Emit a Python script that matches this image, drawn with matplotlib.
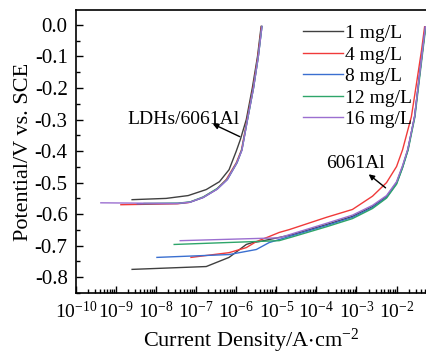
import numpy as np
import matplotlib
matplotlib.use("Agg")
import matplotlib.pyplot as plt
from matplotlib.ticker import LogLocator, MultipleLocator

plt.rcParams['font.family'] = ['Liberation Serif', 'DejaVu Serif']
plt.rcParams['mathtext.fontset'] = 'stix'
plt.rcParams['mathtext.default'] = 'regular'

labels = ['1 mg/L', '4 mg/L', '8 mg/L', '12 mg/L', '16 mg/L']
colors = ['#404040', '#f03a3a', '#3a6fd0', '#2ea56a', '#9b6fd0']

# LDHs/6061Al curves: log10(current density), potential (V)
ldh_logi = [
    [-8.6, -7.75, -7.2, -6.75, -6.42, -6.18, -6.0, -5.9, -5.75, -5.6, -5.47, -5.38],
    [-8.88, -7.47, -7.18, -6.85, -6.5, -6.25, -6.0, -5.87, -5.73, -5.58, -5.46, -5.37],
    [-8.47, -7.45, -7.15, -6.82, -6.47, -6.22, -5.98, -5.86, -5.72, -5.57, -5.45, -5.36],
    [-8.3, -7.45, -7.15, -6.82, -6.47, -6.22, -5.98, -5.86, -5.72, -5.57, -5.45, -5.36],
    [-9.38, -7.5, -7.16, -6.83, -6.48, -6.23, -5.99, -5.86, -5.72, -5.57, -5.45, -5.36],
]
ldh_e = [
    [-0.554, -0.55, -0.541, -0.522, -0.497, -0.459, -0.4, -0.364, -0.3, -0.2, -0.1, -0.005],
    [-0.57, -0.567, -0.563, -0.548, -0.522, -0.49, -0.437, -0.396, -0.3, -0.2, -0.1, -0.005],
    [-0.567, -0.566, -0.562, -0.547, -0.52, -0.49, -0.437, -0.396, -0.3, -0.2, -0.1, -0.005],
    [-0.566, -0.565, -0.561, -0.545, -0.518, -0.488, -0.435, -0.396, -0.3, -0.2, -0.1, -0.005],
    [-0.564, -0.566, -0.562, -0.547, -0.521, -0.491, -0.438, -0.398, -0.3, -0.2, -0.1, -0.005],
]

# bare 6061Al curves
al_logi = [
    [-8.6, -6.75, -6.18, -5.75, -5.6, -5.43, -4.6, -3.75, -3.1, -2.6, -2.25, -2.0, -1.85, -1.72, -1.55, -1.45, -1.35, -1.28],
    [-7.13, -6.18, -5.75, -5.5, -5.18, -4.93, -4.68, -3.75, -3.1, -2.6, -2.25, -2.0, -1.85, -1.63, -1.5, -1.375, -1.3],
    [-7.98, -6.18, -5.5, -5.18, -4.6, -3.75, -3.1, -2.6, -2.25, -2.0, -1.85, -1.72, -1.55, -1.45, -1.35, -1.28],
    [-7.55, -4.93, -4.6, -3.75, -3.1, -2.6, -2.25, -2.0, -1.85, -1.71, -1.54, -1.44, -1.34, -1.27],
    [-7.4, -4.93, -4.6, -3.75, -3.1, -2.6, -2.25, -2.0, -1.85, -1.72, -1.55, -1.45, -1.35, -1.28],
]
al_e = [
    [-0.775, -0.766, -0.737, -0.696, -0.69, -0.687, -0.665, -0.633, -0.607, -0.576, -0.544, -0.5, -0.449, -0.396, -0.291, -0.184, -0.079, -0.006],
    [-0.737, -0.722, -0.706, -0.687, -0.671, -0.658, -0.649, -0.61, -0.585, -0.543, -0.5, -0.449, -0.396, -0.291, -0.184, -0.079, -0.006],
    [-0.737, -0.728, -0.712, -0.69, -0.668, -0.636, -0.61, -0.579, -0.547, -0.503, -0.452, -0.398, -0.291, -0.184, -0.079, -0.006],
    [-0.696, -0.684, -0.672, -0.64, -0.614, -0.582, -0.549, -0.505, -0.453, -0.396, -0.291, -0.184, -0.079, -0.006],
    [-0.684, -0.675, -0.662, -0.629, -0.603, -0.572, -0.541, -0.497, -0.446, -0.394, -0.291, -0.184, -0.079, -0.006],
]

fig = plt.figure(figsize=(4.27, 3.6), dpi=100)
ax = fig.add_axes([0.178, 0.186, 0.822, 0.786])

for i in range(5):
    ax.plot(10 ** np.array(ldh_logi[i]), ldh_e[i], color=colors[i], lw=1.0, label=labels[i])
    ax.plot(10 ** np.array(al_logi[i]), al_e[i], color=colors[i], lw=1.0)

ax.set_xscale('log')
ax.set_xlim(1e-10, 10 ** -1.24)
ax.set_ylim(-0.85, 0.047)
ax.xaxis.set_major_locator(LogLocator(base=10, numticks=20))
ax.xaxis.set_minor_locator(LogLocator(base=10, subs=np.arange(2, 10), numticks=20))
ax.yaxis.set_major_locator(MultipleLocator(0.1))
ax.yaxis.set_minor_locator(MultipleLocator(0.05))
ax.tick_params(which='both', direction='in', width=1.0, top=False, right=False)
ax.tick_params(which='major', length=5)
ax.tick_params(which='minor', length=3)
ax.tick_params(axis='y', labelsize=15, pad=6)
ax.tick_params(axis='x', labelsize=14, pad=6)
ax.yaxis.set_major_formatter(plt.FuncFormatter(lambda v, p: '%.1f' % v if abs(v) > 1e-9 else '0.0'))
for s in ax.spines.values():
    s.set_linewidth(1.2)
ax.spines['right'].set_visible(False)

ax.set_xlabel('Current Density/A$\\cdot$cm$^{-2}$', fontsize=16, labelpad=3)
ax.set_ylabel('Potential/V vs. SCE', fontsize=16, labelpad=1)

ax.legend(loc='upper right', bbox_to_anchor=(1.0, 1.0), frameon=False, fontsize=14,
          handlelength=2.1, handletextpad=0.1, labelspacing=0.2, borderaxespad=0.35)

ax.annotate('', xy=(10 ** -6.65, -0.31), xytext=(10 ** -5.85, -0.358),
            arrowprops=dict(arrowstyle='-|>', color='black', lw=1.0, mutation_scale=8))
ax.text(10 ** -8.72, -0.3, 'LDHs/6061Al', fontsize=14, ha='left', va='center')
ax.annotate('', xy=(10 ** -2.75, -0.468), xytext=(10 ** -2.22, -0.522),
            arrowprops=dict(arrowstyle='-|>', color='black', lw=1.0, mutation_scale=8))
ax.text(10 ** -3.75, -0.44, '6061Al', fontsize=14, ha='left', va='center')

fig.savefig('out.png', dpi=100)
